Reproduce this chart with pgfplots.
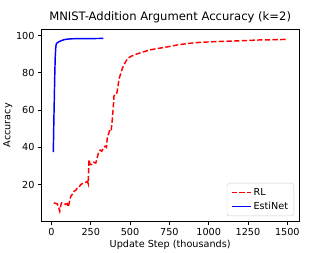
\documentclass[border=0pt]{standalone}
\usepackage{fontspec}
\setmainfont{DejaVu Sans}
\usepackage{pgfplots}
\pgfplotsset{compat=1.18}
\begin{document}
\begin{tikzpicture}
\begin{axis}[
  scale only axis,
  width=266.6pt, height=198.6pt,
  xmin=-64.5, xmax=1574.5,
  ymin=0.3, ymax=103.4,
  xtick={0,250,500,750,1000,1250,1500},
  ytick={20,40,60,80,100},
  tick pos=left,
  tick align=outside,
  major tick length=3.5pt,
  every tick/.style={black, line width=0.8pt},
  axis line style={line width=0.8pt},
  /pgf/number format/assume math mode=true,
  /pgf/number format/set thousands separator={},
  tick label style={font=\fontsize{10}{12}\selectfont},
  label style={font=\fontsize{10}{12}\selectfont},
  xlabel={Update Step (thousands)},
  ylabel={Accuracy},
  xlabel style={yshift=2pt},
  ylabel style={yshift=-3pt},
  title={MNIST-Addition Argument Accuracy (k=2)},
  title style={font=\fontsize{12}{14}\selectfont, at={(0.5,1)}, anchor=base, inner sep=0pt, yshift=3.6pt},
  legend cell align=left,
  legend style={at={(0.981,0.027)}, anchor=south east, font=\fontsize{10}{12}\selectfont,
    draw=black!20, rounded corners=2pt, fill=white, fill opacity=0.8, text opacity=1, draw opacity=1,
    row sep=2pt, inner xsep=4pt, inner ysep=3pt,
    /tikz/every even column/.append style={column sep=2pt}},
  legend image code/.code={\draw[#1, draw opacity=1] (0pt,0pt) -- (20pt,0pt);},
]
\addplot[red, line width=1.5pt, dash pattern=on 5.55pt off 2.4pt] coordinates {
(15,10.2)(25,10)(38,9.6)(45,8)(53,5.7)(60,9)(65,10.2)(80,10)(91,9.3)(100,9.8)(108,8)(115,11)(123,13.7)(135,15)(144,16.4)(155,17)(165,18.2)(175,18.5)(186,20)(197,20.5)(207,20.9)(218,21.2)(229,21.8)(234,20.5)(239,33.4)(245,31)(256,30.7)(268,32)(282,31.6)(290,34)(299,37)(310,38.5)(320,37.9)(330,39.5)(341,40.6)(350,40)(356,46)(363,47)(371,49.5)(380,49)(387,55)(394,62.4)(398,67.8)(408,68)(415,68.7)(422,72)(430,76.7)(440,79.5)(451,82.4)(465,85)(483,87.5)(500,88.6)(525,89.6)(560,90.6)(589,91.4)(630,92.4)(684,93.2)(740,94)(801,95)(870,95.8)(949,96.4)(1050,96.8)(1161,97.1)(1250,97.4)(1331,97.7)(1420,97.8)(1500,98)
};
\addlegendentry{RL}
\addplot[blue, line width=1.5pt] coordinates {
(12,37.5)(15,52)(18,65)(21,78)(24,88)(27,93)(30,95.2)(35,96)(45,96.6)(60,97.2)(80,97.8)(100,98.1)(130,98.3)(180,98.4)(250,98.4)(330,98.5)
};
\addlegendentry{EstiNet}
\coordinate (ll) at (rel axis cs:0,0);
\coordinate (ur) at (rel axis cs:1,1);
\end{axis}
\path[use as bounding box] ([xshift=-42.7pt,yshift=-28.7pt]ll) rectangle ([xshift=34.1pt,yshift=30.3pt]ur);
\end{tikzpicture}
\end{document}
